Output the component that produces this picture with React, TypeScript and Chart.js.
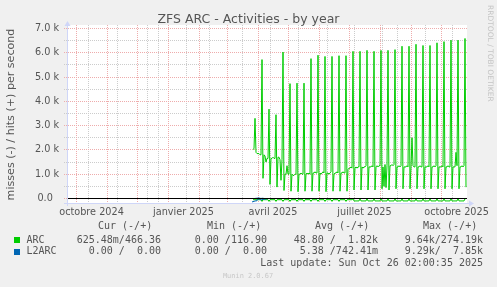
import React, { useEffect, useRef } from "react";
import { Chart, registerables } from "chart.js";

Chart.register(...registerables);

// ---- texts ----
const TITLE = "ZFS ARC - Activities - by year";
const Y_TITLE = "misses (-) / hits (+) per second";
const SIDE_TEXT = "RRDTOOL / TOBI OETIKER";
const WATERMARK = "Munin 2.0.67";
const LAST_UPDATE = "Last update: Sun Oct 26 02:00:35 2025";

// ---- x axis (days, day 0 = 1 Oct 2024) ----
const X_MIN_DAY = -9;
const X_MAX_DAY = 391;
const MONTH_START_DAYS = [0, 31, 61, 92, 123, 151, 182, 212, 243, 273, 304, 335, 365];
const MINOR_X_DAYS = [12, 41, 71, 82, 110, 133, 166, 194, 222, 251, 278, 306, 321, 349, 376];
const X_LABEL_DAYS = [15.5, 107.5, 197, 288.5, 380.5];
const X_LABELS = ["octobre 2024", "janvier 2025", "avril 2025", "juillet 2025", "octobre 2025"];

// ---- y axis (thousands per second) ----
const Y_MIN = -0.1853;
const Y_MAX = 7.144;
const Y_MAJOR = [0, 1, 2, 3, 4, 5, 6, 7];
const Y_MINOR = [0.5, 1.5, 2.5, 3.5, 4.5, 5.5, 6.5];
const Y_LABELS = ["0.0  ", "1.0 k", "2.0 k", "3.0 k", "4.0 k", "5.0 k", "6.0 k", "7.0 k"];

// ---- series (k/s, one value per day) ----
const ARC_START_DAY = 177;
const ARC_HITS = [
  2.02, 2.05, 3.3, 1.9, 1.85, 1.85, 1.85, 1.8, 1.8,
  5.72, 0.83, 1.8, 1.75, 1.5, 1.65, 1.65,
  3.68, 0.58, 1.65, 1.65, 1.7, 1.65, 1.65,
  3.45, 0.47, 1.7, 1.7, 1.6, 0.75, 1.6,
  6.03, 0.33, 1.0, 1.0, 1.35, 1.0, 1.0,
  4.73, 0.3, 1.0, 0.95, 0.95, 1.0, 1.0,
  4.75, 0.28, 1.0, 1.0, 1.05, 1.0, 1.0,
  4.75, 0.3, 1.0, 1.05, 1.0, 1.05, 1.0,
  5.76, 0.3, 1.05, 1.05, 1.1, 1.05, 1.05,
  5.9, 0.3, 1.05, 1.0, 1.05, 1.1, 1.05,
  5.85, 0.28, 1.05, 1.05, 1.0, 1.05, 1.1,
  5.85, 0.3, 1.0, 1.05, 1.05, 1.1, 1.05,
  5.88, 0.3, 1.05, 1.05, 1.1, 1.05, 1.05,
  5.88, 0.3, 1.2, 1.25, 1.25, 1.3, 1.25,
  6.06, 0.35, 1.25, 1.3, 1.25, 1.3, 1.3,
  6.06, 0.35, 1.3, 1.25, 1.3, 1.3, 1.35,
  6.1, 0.35, 1.3, 1.3, 1.3, 1.35, 1.3,
  6.06, 0.35, 1.3, 1.35, 1.3, 1.35, 1.35,
  6.1, 0.4, 1.3, 0.5, 1.4, 0.45, 1.35,
  6.1, 0.35, 1.35, 1.35, 1.4, 1.35, 1.4,
  6.13, 0.4, 1.3, 1.3, 1.35, 1.3, 1.35,
  6.27, 0.4, 1.3, 1.3, 1.3, 1.35, 1.3,
  6.27, 0.4, 1.3, 2.5, 1.35, 1.3, 1.3,
  6.35, 0.4, 1.3, 1.3, 1.35, 1.3, 1.3,
  6.3, 0.4, 1.3, 1.3, 1.3, 1.35, 1.3,
  6.3, 0.4, 1.3, 1.3, 1.35, 1.3, 1.35,
  6.41, 0.4, 1.3, 1.3, 1.3, 1.35, 1.3,
  6.46, 0.4, 1.3, 1.3, 1.35, 1.3, 1.3,
  6.52, 0.4, 1.3, 1.3, 1.3, 1.9, 1.35,
  6.52, 0.4, 1.3, 1.3, 1.35, 1.3, 1.35,
  6.59, 0.466,
];
const ARC_MISSES = [
  -0.05, -0.05, -0.05, -0.05, -0.05, -0.05, -0.05, -0.05, -0.05,
  -0.12, -0.05, -0.05, -0.05, -0.05, -0.05, -0.05,
  -0.12, -0.05, -0.05, -0.05, -0.05, -0.05, -0.05,
  -0.12, -0.05, -0.05, -0.05, -0.05, -0.05, -0.05,
  -0.12, -0.05, -0.05, -0.05, -0.05, -0.05, -0.05,
  -0.12, -0.05, -0.05, -0.05, -0.05, -0.05, -0.05,
  -0.12, -0.05, -0.05, -0.05, -0.05, -0.05, -0.05,
  -0.12, -0.05, -0.05, -0.05, -0.05, -0.05, -0.05,
  -0.12, -0.05, -0.05, -0.05, -0.05, -0.05, -0.05,
  -0.12, -0.05, -0.05, -0.05, -0.05, -0.05, -0.05,
  -0.12, -0.05, -0.05, -0.05, -0.05, -0.05, -0.05,
  -0.12, -0.05, -0.05, -0.05, -0.05, -0.05, -0.05,
  -0.12, -0.05, -0.05, -0.05, -0.05, -0.05, -0.05,
  -0.12, -0.05, -0.05, -0.05, -0.05, -0.05, -0.05,
  -0.01, -0.1, -0.1, -0.1, -0.1, -0.1, -0.1,
  -0.01, -0.1, -0.1, -0.1, -0.1, -0.1, -0.1,
  -0.01, -0.1, -0.1, -0.1, -0.1, -0.1, -0.1,
  -0.01, -0.1, -0.1, -0.1, -0.1, -0.1, -0.1,
  -0.01, -0.1, -0.1, -0.1, -0.1, -0.1, -0.1,
  -0.01, -0.1, -0.1, -0.1, -0.1, -0.1, -0.1,
  -0.01, -0.1, -0.1, -0.1, -0.1, -0.1, -0.1,
  -0.01, -0.1, -0.1, -0.1, -0.1, -0.1, -0.1,
  -0.01, -0.1, -0.1, -0.1, -0.1, -0.1, -0.1,
  -0.01, -0.1, -0.1, -0.1, -0.1, -0.1, -0.1,
  -0.01, -0.1, -0.1, -0.1, -0.1, -0.1, -0.1,
  -0.01, -0.1, -0.1, -0.1, -0.1, -0.1, -0.1,
  -0.01, -0.1, -0.1, -0.1, -0.1, -0.1, -0.1,
  -0.01, -0.1, -0.1, -0.1, -0.1, -0.1, -0.1,
  -0.01, -0.1, -0.1, -0.1, -0.1, -0.1, -0.1,
  -0.01, -0.1, -0.1, -0.1, -0.1, -0.1, -0.1,
  -0.01, -0.001,
];
const L2ARC_START_DAY = 176;
const L2ARC_HITS = [0, 0, 0, 0, 0.01, 0.01, 0.02, 0.02, 0.01, 0, 0.01, 0.01, 0, 0, 0, 0, 0];
const L2ARC_MISSES = [-0.14, -0.13, -0.12, -0.1, -0.1, -0.09, -0.02, -0.01, -0.04, -0.06, -0.05, -0.03, -0.03, -0.02, -0.02, -0.01, 0];

// ---- legend table ----
const LEGEND_HEADERS = ["Cur (-/+)", "Min (-/+)", "Avg (-/+)", "Max (-/+)"];
const SERIES_NAMES = ["ARC", "L2ARC"];
const ARC_STATS = ["625.48m/466.36", "0.00 /116.90", "48.80 /  1.82k", "9.64k/274.19k"];
const L2ARC_STATS = ["0.00 /  0.00", "0.00 /  0.00", "5.38 /742.41m", "9.29k/  7.85k"];

const ARC_COLOR = "#00CC00";
const L2ARC_COLOR = "#0066B3";

const HEADER_X = [98, 207, 315, 423];
const COL_RIGHT = [161, 267, 378, 483];

const toPoints = (start: number, arr: number[]) => arr.map((v, i) => ({ x: start + i, y: v }));

const framePlugin = {
  id: "rrdFrame",
  beforeDraw(chart: any) {
    const { ctx, chartArea: a } = chart;
    ctx.save();
    ctx.fillStyle = "#F0F0F0";
    ctx.fillRect(0, 0, chart.width, chart.height);
    ctx.fillStyle = "#FFFFFF";
    ctx.fillRect(a.left, a.top, a.right - a.left, a.bottom - a.top);
    ctx.restore();
  },
  beforeDatasetsDraw(chart: any) {
    const { ctx, chartArea: a, scales } = chart;
    const xs = scales.x, ys = scales.y;
    ctx.save();
    ctx.lineWidth = 1;
    ctx.setLineDash([1, 1]);
    const vline = (d: number, color: string) => {
      const px = Math.floor(xs.getPixelForValue(d)) + 0.5;
      if (px < a.left || px > a.right) return;
      ctx.strokeStyle = color;
      ctx.beginPath();
      ctx.moveTo(px, a.top);
      ctx.lineTo(px, a.bottom + 2);
      ctx.stroke();
    };
    const hline = (v: number, color: string) => {
      const py = Math.floor(ys.getPixelForValue(v)) + 0.5;
      ctx.strokeStyle = color;
      ctx.beginPath();
      ctx.moveTo(a.left - 3, py);
      ctx.lineTo(a.right, py);
      ctx.stroke();
    };
    MINOR_X_DAYS.forEach((d) => vline(d, "#CCCCCC"));
    Y_MINOR.forEach((v) => hline(v, "#CCCCCC"));
    MONTH_START_DAYS.forEach((d) => vline(d, "#EEACAC"));
    Y_MAJOR.forEach((v) => hline(v, "#EEACAC"));
    ctx.restore();
  },
  afterDatasetsDraw(chart: any) {
    const { ctx, chartArea: a, scales } = chart;
    ctx.save();
    // zero line
    const y0 = Math.floor(scales.y.getPixelForValue(0)) + 0.5;
    ctx.strokeStyle = "#000000";
    ctx.lineWidth = 1;
    ctx.beginPath();
    ctx.moveTo(a.left, y0);
    ctx.lineTo(a.right, y0);
    ctx.stroke();
    // axes with arrows
    const axisCol = "#CFD6F8";
    ctx.strokeStyle = axisCol;
    ctx.fillStyle = axisCol;
    const bx = a.bottom + 0.5;
    ctx.beginPath();
    ctx.moveTo(a.left - 3, bx);
    ctx.lineTo(a.right + 3, bx);
    ctx.stroke();
    ctx.beginPath();
    ctx.moveTo(a.right + 7, bx);
    ctx.lineTo(a.right + 2, bx - 3);
    ctx.lineTo(a.right + 2, bx + 3);
    ctx.closePath();
    ctx.fill();
    const lx = a.left + 0.5;
    ctx.beginPath();
    ctx.moveTo(lx, a.bottom + 3);
    ctx.lineTo(lx, a.top);
    ctx.stroke();
    ctx.beginPath();
    ctx.moveTo(lx, a.top - 4);
    ctx.lineTo(lx - 3, a.top + 1);
    ctx.lineTo(lx + 3, a.top + 1);
    ctx.closePath();
    ctx.fill();
    ctx.restore();
  },
  afterDraw(chart: any) {
    const { ctx } = chart;
    ctx.save();
    // title
    ctx.fillStyle = "#555555";
    ctx.font = "12.5px 'DejaVu Sans'";
    ctx.textAlign = "center";
    ctx.textBaseline = "middle";
    ctx.fillText(TITLE, 248.5, 19.5);
    // y title
    ctx.save();
    ctx.translate(11, 114.5);
    ctx.rotate(-Math.PI / 2);
    ctx.font = "11.1px 'DejaVu Sans'";
    ctx.fillText(Y_TITLE, 0, 0);
    ctx.restore();
    // side text
    ctx.save();
    ctx.translate(490, 5);
    ctx.rotate(Math.PI / 2);
    ctx.fillStyle = "#C4C4C4";
    ctx.font = "7.5px 'DejaVu Sans'";
    ctx.textAlign = "left";
    ctx.fillText(SIDE_TEXT, 0, 0);
    ctx.restore();
    // legend
    ctx.font = "10px 'DejaVu Sans Mono'";
    ctx.fillStyle = "#555555";
    ctx.textAlign = "left";
    LEGEND_HEADERS.forEach((h, i) => ctx.fillText(h, HEADER_X[i], 226.7));
    const rows = [
      { name: SERIES_NAMES[0], stats: ARC_STATS, color: ARC_COLOR, y: 240 },
      { name: SERIES_NAMES[1], stats: L2ARC_STATS, color: L2ARC_COLOR, y: 251.7 },
    ];
    rows.forEach((r) => {
      ctx.fillStyle = r.color;
      ctx.fillRect(14, Math.round(r.y) - 3, 6, 6);
      ctx.fillStyle = "#555555";
      ctx.textAlign = "left";
      ctx.fillText(r.name, 26.5, r.y);
      ctx.textAlign = "right";
      r.stats.forEach((s, i) => ctx.fillText(s, COL_RIGHT[i], r.y));
    });
    ctx.textAlign = "right";
    ctx.fillText(LAST_UPDATE, 483, 263.3);
    // watermark
    ctx.textAlign = "center";
    ctx.fillStyle = "#C8C8C8";
    ctx.font = "6.94px 'DejaVu Sans Mono'";
    ctx.fillText(WATERMARK, 248, 276);
    ctx.restore();
  },
};

export default function App() {
  const canvasRef = useRef<HTMLCanvasElement | null>(null);

  useEffect(() => {
    if (!canvasRef.current) return;
    const line = (data: any[], color: string) => ({
      data,
      borderColor: color,
      backgroundColor: color,
      borderWidth: 1,
      pointRadius: 0,
      fill: false,
      tension: 0,
    });
    const chart = new Chart(canvasRef.current, {
      type: "line",
      data: {
        datasets: [
          line(toPoints(L2ARC_START_DAY, L2ARC_HITS), L2ARC_COLOR),
          line(toPoints(L2ARC_START_DAY, L2ARC_MISSES), L2ARC_COLOR),
          line(toPoints(ARC_START_DAY, ARC_MISSES), ARC_COLOR),
          line(toPoints(ARC_START_DAY, ARC_HITS), ARC_COLOR),
        ],
      },
      options: {
        animation: false,
        responsive: false,
        devicePixelRatio: 1,
        events: [],
        layout: { padding: { left: 0, right: 30, top: 25, bottom: 0 } },
        plugins: {
          legend: { display: false },
          tooltip: { enabled: false },
          title: { display: false },
        },
        scales: {
          x: {
            type: "linear",
            min: X_MIN_DAY,
            max: X_MAX_DAY,
            grid: { display: false, drawTicks: false },
            border: { display: false },
            afterBuildTicks: (s: any) => {
              s.ticks = X_LABEL_DAYS.map((v) => ({ value: v }));
            },
            afterFit: (s: any) => {
              s.height = 84;
            },
            ticks: {
              autoSkip: false,
              maxRotation: 0,
              minRotation: 0,
              padding: 4,
              color: "#555555",
              font: { family: "DejaVu Sans", size: 9.7 },
              callback: (v: any) => {
                const i = X_LABEL_DAYS.indexOf(Number(v));
                return i >= 0 ? X_LABELS[i] : "";
              },
            },
          },
          y: {
            type: "linear",
            min: Y_MIN,
            max: Y_MAX,
            grid: { display: false, drawTicks: false },
            border: { display: false },
            afterBuildTicks: (s: any) => {
              s.ticks = Y_MAJOR.map((v) => ({ value: v }));
            },
            afterFit: (s: any) => {
              s.width = 67;
            },
            ticks: {
              autoSkip: false,
              padding: 8,
              color: "#555555",
              font: { family: "DejaVu Sans", size: 9.7 },
              callback: (v: any) => {
                const i = Y_MAJOR.indexOf(Number(v));
                return i >= 0 ? Y_LABELS[i] : "";
              },
            },
          },
        },
      },
      plugins: [framePlugin],
    } as any);
    return () => chart.destroy();
  }, []);

  return (
    <div style={{ position: "fixed", left: 0, top: 0, width: 497, height: 287 }}>
      <canvas ref={canvasRef} width={497} height={287} style={{ display: "block" }} />
    </div>
  );
}
